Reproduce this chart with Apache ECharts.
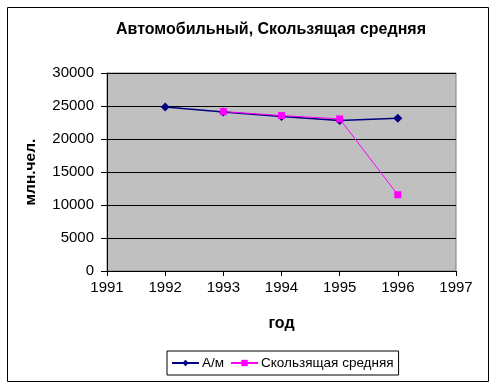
<!DOCTYPE html>
<html><head><meta charset="utf-8">
<script src="https://cdn.jsdelivr.net/npm/echarts@6/dist/echarts.min.js"></script>
<style>html,body{margin:0;padding:0;background:#fff}#c{width:493px;height:384px}</style>
</head><body><div id="c"></div>
<script>
var years = [1992, 1993, 1994, 1995, 1996];
var avtoValues = [24850, 24100, 23400, 22800, 23150];
var maYears = [1993, 1994, 1995, 1996];
var maValues = [24150, 23550, 23050, 11550];
var yTicks = [0, 5000, 10000, 15000, 20000, 25000, 30000];
var xTicks = [1991, 1992, 1993, 1994, 1995, 1996, 1997];

var chart = echarts.init(document.getElementById('c'), null, {renderer: 'canvas'});
var font = 'Arial, "Liberation Sans", sans-serif';
chart.setOption({
  animation: false,
  backgroundColor: '#fff',
  title: {
    text: 'Автомобильный, Скользящая средняя',
    left: 266, top: 17, textAlign: 'center',
    textStyle: {fontFamily: font, fontSize: 16, fontWeight: 'bold', color: '#000'}
  },
  graphic: [{
    type: 'rect', left: 5, top: 5, shape: {width: 481, height: 374},
    style: {fill: null, stroke: '#000', lineWidth: 1}, silent: true, z: -1
  }],
  legend: {
    orient: 'horizontal',
    left: 167, top: 351,
    itemWidth: 27, itemHeight: 8, itemGap: 6,
    padding: [5, 5, 5, 4],
    borderColor: '#000', borderWidth: 1,
    textStyle: {fontFamily: font, fontSize: 13.5, color: '#000', padding: [0, 0, 0, -2]},
    data: ['А/м', 'Скользящая средняя']
  },
  grid: {
    left: 107, right: 37, top: 73, bottom: 113,
    show: true, backgroundColor: '#c0c0c0', borderColor: '#808080', borderWidth: 1
  },
  xAxis: {
    type: 'value', min: xTicks[0], max: xTicks[xTicks.length - 1], interval: 1,
    name: 'год', nameLocation: 'middle', nameGap: 45,
    nameTextStyle: {fontFamily: font, fontSize: 16, fontWeight: 'bold', color: '#000'},
    axisLine: {show: true, lineStyle: {color: '#000', width: 1}},
    axisTick: {show: true, inside: false, length: 5, lineStyle: {color: '#000'}},
    axisLabel: {fontFamily: font, fontSize: 15, color: '#000', margin: 9,
      formatter: function (v) { return String(v); }},
    splitLine: {show: false}
  },
  yAxis: {
    type: 'value', min: yTicks[0], max: yTicks[yTicks.length - 1], interval: 5000,
    name: 'млн.чел.', nameLocation: 'middle', nameGap: 68, nameRotate: 90,
    nameTextStyle: {fontFamily: font, fontSize: 15.5, fontWeight: 'bold', color: '#000'},
    axisLine: {show: true, lineStyle: {color: '#000', width: 1}},
    axisTick: {show: true, inside: false, length: 6, lineStyle: {color: '#000'}},
    axisLabel: {fontFamily: font, fontSize: 15, color: '#000', margin: 13,
      formatter: function (v) { return String(v); }},
    splitLine: {show: true, lineStyle: {color: '#000', width: 1}}
  },
  series: [{
    name: 'А/м', type: 'line',
    data: years.map(function (y, i) { return [y, avtoValues[i]]; }),
    symbol: 'diamond', symbolSize: 9,
    itemStyle: {color: '#000080'},
    lineStyle: {color: '#000080', width: 1.5}
  }, {
    name: 'Скользящая средняя', type: 'line',
    data: maYears.map(function (y, i) { return [y, maValues[i]]; }),
    symbol: 'rect', symbolSize: 7,
    itemStyle: {color: '#ff00ff'},
    lineStyle: {color: '#ff00ff', width: 1}
  }]
});
</script></body></html>
